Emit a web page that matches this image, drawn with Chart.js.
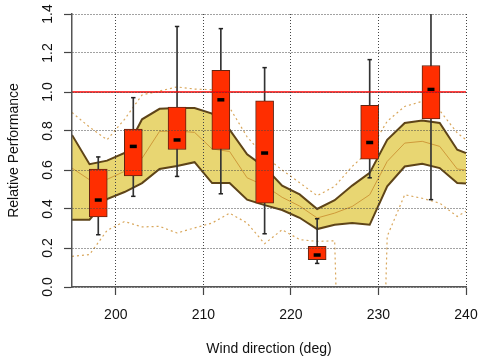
<!DOCTYPE html>
<html>
<head>
<meta charset="utf-8">
<script src="https://cdn.jsdelivr.net/npm/chart.js@4"></script>
<style>
  html, body { margin: 0; padding: 0; background: #fff; }
  #wrap { width: 480px; height: 360px; }
</style>
</head>
<body>
<div id="wrap"><canvas id="chart" width="480" height="360"></canvas></div>
<script>
// axis ranges / ticks
const xMin = 195, xMax = 240;
const yMin = 0, yMax = 1.4;
const xTicks = [200, 210, 220, 230, 240];
const yTicks = [0, 0.2, 0.4, 0.6, 0.8, 1.0, 1.2, 1.4];
const refLevel = 1.0;

// smooth envelope (every 2 deg)
const envX      = [195, 197, 199, 201, 203, 205, 207, 209, 211, 213, 215, 217, 219, 221, 223, 225, 227, 229, 231, 233, 235, 237, 239, 240];
const envUpper  = [0.78, 0.63, 0.648, 0.687, 0.86, 0.914, 0.918, 0.918, 0.889, 0.807, 0.68, 0.615, 0.52, 0.475, 0.40, 0.445, 0.52, 0.585, 0.755, 0.841, 0.854, 0.841, 0.704, 0.687];
const envLower  = [0.345, 0.345, 0.451, 0.487, 0.533, 0.605, 0.62, 0.64, 0.533, 0.533, 0.448, 0.42, 0.395, 0.355, 0.297, 0.319, 0.328, 0.319, 0.516, 0.618, 0.632, 0.61, 0.533, 0.531];
const envMid    = [0.61, 0.55, 0.552, 0.593, 0.66, 0.798, 0.80, 0.793, 0.708, 0.695, 0.56, 0.52, 0.46, 0.415, 0.354, 0.379, 0.413, 0.473, 0.644, 0.738, 0.747, 0.721, 0.605, 0.6];
const envOuterHi = [0.895, 0.82, 0.755, 0.86, 0.985, 1.005, 1.026, 1.015, 1.012, 0.92, 0.77, 0.67, 0.6, 0.535, 0.468, 0.516, 0.618, 0.70, 0.85, 0.926, 0.952, 0.905, 0.79, 0.755];
const envOuterLo = [0.157, 0.166, 0.29, 0.336, 0.308, 0.311, 0.277, 0.303, 0.328, 0.379, 0.328, 0.222, 0.294, 0.243, 0.234, 0.237, -3, -3, 0.26, 0.473, 0.455, 0.43, 0.362, 0.388];

// box plots per wind sector
const boxX    = [198, 202, 207, 212, 217, 223, 229, 236];
const boxQ1   = [0.36, 0.57, 0.705, 0.705, 0.43, 0.14, 0.655, 0.862];
const boxQ3   = [0.605, 0.81, 0.923, 1.111, 0.955, 0.208, 0.932, 1.136];
const boxMed  = [0.446, 0.721, 0.754, 0.96, 0.687, 0.164, 0.741, 1.013];
const whiskLo = [0.268, 0.465, 0.567, 0.478, 0.273, 0.121, 0.56, 0.448];
const whiskHi = [0.667, 0.971, 1.336, 1.325, 1.125, 0.35, 1.166, 1.5];

const FONT = '"Liberation Sans", Arial, Helvetica, sans-serif';
Chart.defaults.font.family = FONT;
Chart.defaults.color = '#111';

const pts = (xs, ys) => xs.map((x, i) => ({ x: x, y: ys[i] }));

function lineSet(label, ys, color, width, order, extra) {
  return Object.assign({
    type: 'line', label: label, data: pts(envX, ys),
    borderColor: color, borderWidth: width, pointRadius: 0,
    tension: 0, fill: false, order: order
  }, extra || {});
}

// y tick labels are rotated like in R
const rotatedYLabels = {
  id: 'rotatedYLabels',
  afterDraw(chart) {
    const s = chart.scales.y;
    const ctx = chart.ctx;
    ctx.save();
    ctx.font = '14px ' + FONT;
    ctx.fillStyle = '#111';
    ctx.textAlign = 'center';
    ctx.textBaseline = 'middle';
    yTicks.forEach(v => {
      ctx.save();
      ctx.translate(s.left + 48, s.getPixelForValue(v));
      ctx.rotate(-Math.PI / 2);
      ctx.fillText(v.toFixed(1), 0, 0);
      ctx.restore();
    });
    ctx.restore();
  }
};

const gridOpts = { color: '#444', lineWidth: 1, z: 1, offset: false, tickLength: 8, tickColor: '#444', tickWidth: 1.2 };
const borderOpts = { display: true, color: '#555', width: 1.5, dash: [1, 2], z: 2 };

new Chart(document.getElementById('chart'), {
  type: 'bar',
  data: {
    datasets: [
      { type: 'line', label: 'ref', data: pts([xMin, xMax], [refLevel, refLevel]),
        borderColor: '#ff0000', borderWidth: 1.5, pointRadius: 0, order: 0 },
      { type: 'line', label: 'median', data: pts(boxX, boxMed), showLine: false,
        pointStyle: 'line', pointRadius: 3.5, borderColor: '#000', pointBorderWidth: 3.5, order: 1 },
      { type: 'line', label: 'capHi', data: pts(boxX, whiskHi), showLine: false,
        pointStyle: 'line', pointRadius: 2.2, borderColor: '#222', pointBorderWidth: 1.5, order: 2 },
      { type: 'line', label: 'capLo', data: pts(boxX, whiskLo), showLine: false,
        pointStyle: 'line', pointRadius: 2.2, borderColor: '#222', pointBorderWidth: 1.5, order: 2 },
      { type: 'bar', label: 'box', data: boxX.map((x, i) => ({ x: x, y: [boxQ1[i], boxQ3[i]] })),
        backgroundColor: '#ff2e00', borderColor: '#5e2412', borderWidth: 1, borderSkipped: false,
        barThickness: 18, grouped: false, order: 3 },
      { type: 'bar', label: 'whisker', data: boxX.map((x, i) => ({ x: x, y: [whiskLo[i], whiskHi[i]] })),
        backgroundColor: '#333', borderWidth: 0, barThickness: 1, grouped: false, order: 4 },
      lineSet('outerHi', envOuterHi, '#d9a75c', 1.2, 5, { borderDash: [2, 3] }),
      lineSet('outerLo', envOuterLo, '#d9a75c', 1.2, 5, { borderDash: [2, 3] }),
      lineSet('mid', envMid, '#cf9a3a', 1, 6),
      lineSet('upper', envUpper, '#5e4418', 2, 8, { fill: '+1', backgroundColor: '#e8d672' }),
      lineSet('lower', envLower, '#5e4418', 2, 7)
    ]
  },
  options: {
    responsive: false,
    animation: false,
    devicePixelRatio: 1,
    layout: { padding: { top: 14, right: 14, left: 0, bottom: 0 } },
    plugins: { legend: { display: false }, tooltip: { enabled: false } },
    scales: {
      x: {
        type: 'linear', min: xMin, max: xMax, offset: false,
        afterBuildTicks: s => { s.ticks = xTicks.map(v => ({ value: v })); },
        afterFit: s => { s.height = 73; s.paddingLeft = 0; s.paddingRight = 0; },
        grid: gridOpts, border: borderOpts,
        ticks: { font: { size: 14 }, padding: 12, maxRotation: 0, autoSkip: false },
        title: { display: true, text: 'Wind direction (deg)', font: { size: 14 }, padding: { top: 0, bottom: 2 } }
      },
      y: {
        type: 'linear', min: yMin, max: yMax,
        afterBuildTicks: s => { s.ticks = yTicks.map(v => ({ value: v })); },
        afterFit: s => { s.width = 72; s.paddingTop = 0; s.paddingBottom = 0; },
        grid: gridOpts, border: borderOpts,
        ticks: { display: false },
        title: { display: true, text: 'Relative Performance', font: { size: 14 }, padding: { top: 5.6, bottom: 0 } }
      }
    }
  },
  plugins: [rotatedYLabels]
});
</script>
</body>
</html>
